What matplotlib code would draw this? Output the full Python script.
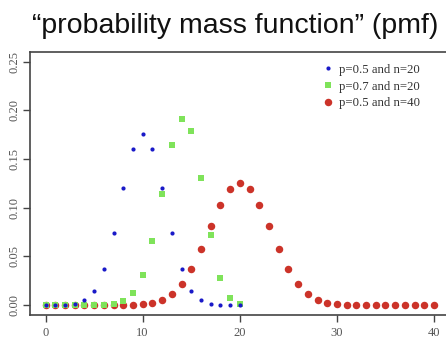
import matplotlib
matplotlib.use('Agg')
import matplotlib.pyplot as plt

# binomial pmf values
k20 = list(range(0, 21))
k40 = list(range(0, 41))
pmf_05_20 = [0.000001, 0.00002, 0.00018, 0.0011, 0.0046, 0.0148, 0.0370,
             0.0739, 0.1201, 0.1602, 0.1762, 0.1602, 0.1201, 0.0739, 0.0370,
             0.0148, 0.0046, 0.0011, 0.00018, 0.00002, 0.000001]
pmf_07_20 = [0.0, 0.0, 0.0, 0.0, 0.000005, 0.00004, 0.0002, 0.0010,
             0.0039, 0.0120, 0.0308, 0.0654, 0.1144, 0.1643, 0.1916,
             0.1789, 0.1304, 0.0716, 0.0278, 0.0068, 0.0008]
pmf_05_40 = [0.0, 0.0, 0.0, 0.0, 0.0, 0.0, 0.0, 0.00001, 0.00007, 0.00025,
             0.0008, 0.0021, 0.0051, 0.0109, 0.0211, 0.0366, 0.0572, 0.0807,
             0.1031, 0.1194, 0.1254, 0.1194, 0.1031, 0.0807, 0.0572, 0.0366,
             0.0211, 0.0109, 0.0051, 0.0021, 0.0008, 0.00025, 0.00007,
             0.00001, 0.0, 0.0, 0.0, 0.0, 0.0, 0.0, 0.0]
labels = ['p=0.5 and n=20', 'p=0.7 and n=20', 'p=0.5 and n=40']
xticks = [0, 10, 20, 30, 40]
yticks = [0.00, 0.05, 0.10, 0.15, 0.20, 0.25]

blue = '#1a1ac8'
green = '#7fe35a'
red = '#cc3329'
axis_col = '#444444'
text_col = '#555555'

fig = plt.figure(figsize=(4.46, 3.38), dpi=100)
ax = fig.add_axes([30 / 446, 1 - 314.7 / 338, 419.6 / 446, 262.7 / 338])

h3, = ax.plot(k40, pmf_05_40, 'o', color=red, ms=5.4, mew=0, label=labels[2])
h2, = ax.plot(k20, pmf_07_20, 's', color=green, ms=4.0, mew=0, label=labels[1])
h1, = ax.plot(k20, pmf_05_20, 'o', color=blue, ms=3.0, mew=0, label=labels[0])

ax.set_xlim(-1.6, 41.6)
ax.set_ylim(-0.0100, 0.2600)
ax.set_xticks(xticks)
ax.set_yticks(yticks)
ax.set_xticklabels([str(t) for t in xticks], family='Liberation Serif',
                   fontsize=9, color=text_col)
ax.set_yticklabels(['%.2f' % t for t in yticks], family='Liberation Serif',
                   fontsize=9, color=text_col, rotation=90, va='center')
ax.tick_params(direction='out', length=5, width=1, color=axis_col)
ax.tick_params(axis='x', pad=4)
ax.tick_params(axis='y', pad=1.5)
for s in ax.spines.values():
    s.set_color(axis_col)
    s.set_linewidth(1.2)

leg = ax.legend(handles=[h1, h2, h3], loc='upper left',
                bbox_to_anchor=(0.69, 0.975), frameon=False,
                prop={'family': 'Liberation Serif', 'size': 9.2},
                handlelength=0.6, handletextpad=0.5, labelspacing=0.38,
                markerscale=1.0, borderaxespad=0)
for t in leg.get_texts():
    t.set_color('#333333')

fig.text(0.527, 0.923, '\u201cprobability mass function\u201d (pmf)',
         family='Liberation Sans', fontsize=20.5, ha='center', va='center',
         color='#111111')

fig.savefig('out.png', dpi=100)
